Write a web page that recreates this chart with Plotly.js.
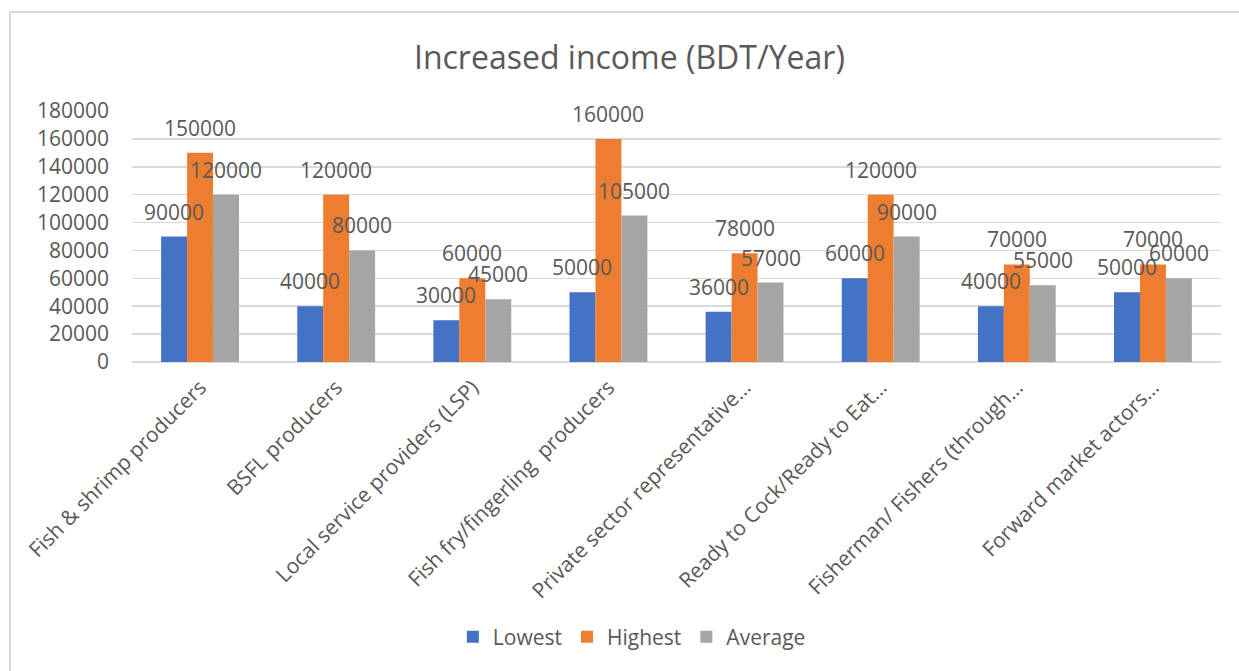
<!DOCTYPE html>
<html>
<head>
<meta charset="utf-8">
<script src="https://cdn.plot.ly/plotly-3.0.1.min.js"></script>
<style>
  html, body { margin: 0; padding: 0; background: #ffffff; }
  #wrap { position: relative; width: 1239px; height: 671px; overflow: hidden; }
  #chart { position: absolute; left: 0; top: 0; width: 1239px; height: 671px; }
  #frame { position: absolute; left: 9px; top: 11px; width: 1240px; height: 680px;
           border-left: 2px solid #d9d9d9; border-top: 2px solid #d9d9d9; pointer-events: none; }
</style>
</head>
<body>
<div id="wrap">
  <div id="chart"></div>
  <div id="frame"></div>
</div>
<script>
// Income groups and yearly increase ranges (BDT/Year)
const categories = [
  "Fish & shrimp producers",
  "BSFL producers",
  "Local service providers (LSP)",
  "Fish fry/fingerling  producers",
  "Private sector representative…",
  "Ready to Cock/Ready to Eat…",
  "Fisherman/ Fishers (through…",
  "Forward market actors…"
];
const lowest  = [90000, 40000, 30000, 50000, 36000, 60000, 40000, 50000];
const highest = [150000, 120000, 60000, 160000, 78000, 120000, 70000, 70000];
const average = [120000, 80000, 45000, 105000, 57000, 90000, 55000, 60000];
const seriesNames = ["Lowest", "Highest", "Average"];
const yTicks = [0, 20000, 40000, 60000, 80000, 100000, 120000, 140000, 160000, 180000];

const colors = ["#4472C4", "#ED7D31", "#A5A5A5"];
const textColor = "#595959";
const fontFamily = "'Open Sans', 'Noto Sans', sans-serif";
const seriesValues = [lowest, highest, average];

const plotLeft = 132, plotRight = 18;
const plotWidth = 1239 - plotLeft - plotRight;
const bargap = 0.428;
const barWidthPx = plotWidth / categories.length * (1 - bargap) / 3;

const traces = seriesValues.map((vals, i) => ({
  type: "bar",
  name: seriesNames[i],
  x: categories,
  y: vals,
  marker: { color: colors[i], line: { width: 0 } },
  hoverinfo: "x+y+name"
}));

// Value labels sitting above each bar
const annotations = [];
seriesValues.forEach((vals, i) => {
  vals.forEach((v, j) => {
    annotations.push({
      x: categories[j], y: v, xref: "x", yref: "y",
      text: String(v), showarrow: false,
      xshift: (i - 1) * barWidthPx, yshift: 25,
      xanchor: "center", yanchor: "middle",
      font: { family: fontFamily, size: 21, color: textColor }
    });
  });
});

const layout = {
  width: 1239, height: 671,
  margin: { l: plotLeft, r: plotRight, t: 111, b: 309, pad: 0 },
  paper_bgcolor: "rgba(0,0,0,0)",
  plot_bgcolor: "rgba(0,0,0,0)",
  title: {
    text: "Increased income (BDT/Year)",
    x: 0.508, xanchor: "center",
    y: 1 - 58 / 671, yanchor: "middle", yref: "container",
    font: { family: fontFamily, size: 32, color: textColor }
  },
  barmode: "group",
  bargap: bargap,
  bargroupgap: 0,
  xaxis: {
    type: "category",
    tickangle: -45,
    ticklabelstandoff: 8,
    tickfont: { family: fontFamily, size: 21, color: textColor },
    showgrid: false, zeroline: false, showline: false, ticks: ""
  },
  yaxis: {
    range: [0, 180000],
    tickvals: yTicks,
    ticktext: yTicks.map(String),
    tickfont: { family: fontFamily, size: 21, color: textColor },
    ticklabelstandoff: 22,
    showgrid: true, gridcolor: "#d9d9d9", gridwidth: 1.5,
    zeroline: true, zerolinecolor: "#d9d9d9", zerolinewidth: 1.5,
    showline: false, ticks: ""
  },
  legend: {
    orientation: "h",
    x: 0.459, xanchor: "center",
    y: -275 / 251, yanchor: "middle",
    font: { family: fontFamily, size: 21, color: textColor },
    itemwidth: 30, traceorder: "normal"
  },
  annotations: annotations,
  showlegend: true
};

Plotly.newPlot("chart", traces, layout, { displayModeBar: false, staticPlot: true });
</script>
</body>
</html>
